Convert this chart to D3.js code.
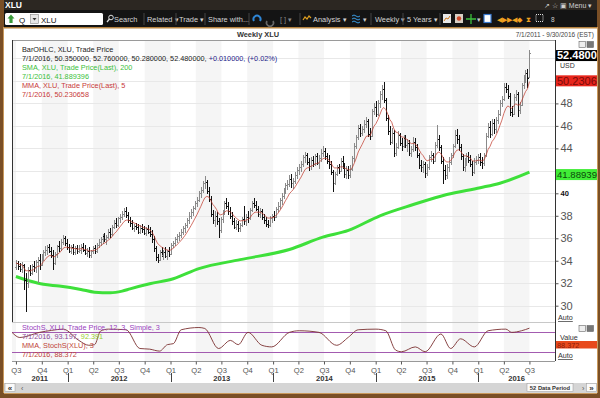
<!DOCTYPE html>
<html><head><meta charset="utf-8">
<script src="https://cdn.jsdelivr.net/npm/d3@7"></script>
<style>
body{margin:0;background:#fff;overflow:hidden}
svg{display:block}
text{font-family:"Liberation Sans",Arial,sans-serif}
</style></head>
<body><svg id="c" width="600" height="398"></svg>
<script>
// ---------------- DATA ----------------
const firstWeek = "2011-07-01";
const weekOpen = [
33.4,33.8,33.5,33.3,33.6,32.3,32.0,33.2,32.9,33.5,33.4,33.9,34.1,
33.6,34.4,34.8,35.0,35.2,34.9,34.5,33.8,34.6,35.3,35.1,35.7,36.0,
35.6,35.2,34.9,35.2,34.8,35.1,34.9,35.0,35.2,35.0,34.7,34.9,34.5,
34.9,35.1,34.9,35.4,35.7,35.9,36.2,35.9,36.1,36.6,36.4,37.0,37.4,
37.2,37.8,37.9,38.2,38.4,38.1,37.6,37.4,36.9,37.1,37.0,36.6,36.9,
36.8,36.5,36.8,36.6,36.4,35.9,35.1,34.3,34.1,34.8,34.5,34.8,34.4,
34.9,34.6,35.4,35.6,35.9,36.2,36.3,36.6,36.9,37.2,37.6,38.0,38.3,
38.7,39.1,39.4,40.0,40.3,40.9,41.0,40.2,39.5,38.2,37.6,38.0,37.5,
36.7,37.7,38.3,39.1,38.9,38.4,38.0,37.5,37.0,37.3,36.9,37.2,37.7,
37.5,37.9,37.8,38.5,39.1,39.0,38.6,38.2,38.4,37.9,37.6,37.3,37.2,
37.8,38.0,37.9,38.6,38.9,39.4,39.8,40.2,40.7,40.8,41.3,40.9,41.1,
41.6,42.1,42.3,42.6,43.2,43.4,42.8,42.4,43.0,42.6,43.3,42.7,43.1,
43.6,43.8,43.3,42.9,42.6,41.9,40.9,41.7,42.3,42.0,42.9,42.4,41.7,
42.1,41.6,42.2,43.1,44.2,45.0,45.8,45.4,45.7,46.2,46.4,45.3,45.1,
47.3,47.7,47.1,48.0,48.8,49.3,48.3,46.7,45.5,44.6,45.4,43.6,44.1,
45.2,44.5,44.2,44.9,44.3,44.5,43.6,43.9,44.6,44.1,43.4,42.5,42.3,
42.6,41.8,42.3,43.2,43.4,42.9,44.3,44.8,44.1,42.9,42.1,41.6,42.3,
42.8,43.4,44.2,45.2,44.8,44.1,43.3,42.3,42.8,43.3,43.0,42.6,41.9,
42.8,43.0,43.2,42.8,42.7,43.4,45.1,45.9,45.3,46.3,45.7,46.5,47.1,
48.0,48.4,49.5,49.3,48.7,47.2,47.1,48.6,48.8,47.4,47.9,49.6,50.3,
50.7,50.35];
const weekHigh = [
34.1,34.0,33.8,33.9,33.7,32.9,33.4,33.6,33.7,34.0,34.1,34.3,34.6,
34.6,35.0,35.3,35.4,35.5,35.2,35.0,34.8,35.4,35.8,35.9,36.3,36.2,
35.9,35.5,35.4,35.5,35.3,35.4,35.4,35.5,35.6,35.4,35.1,35.2,35.0,
35.3,35.4,35.6,35.9,36.1,36.4,36.5,36.3,36.8,36.9,37.2,37.6,37.8,
37.9,38.2,38.4,38.7,38.8,38.3,37.9,37.6,37.3,37.4,37.3,37.2,37.3,
37.1,37.0,37.2,37.0,36.7,36.2,35.3,34.6,35.0,35.2,35.0,35.2,35.0,
35.2,35.6,35.8,36.1,36.4,36.6,36.8,37.1,37.4,37.8,38.3,38.6,38.9,
39.3,39.7,40.2,40.6,41.1,41.5,41.2,40.6,39.8,38.5,38.4,38.3,37.8,
37.9,38.5,39.3,39.6,39.2,38.8,38.3,37.8,37.6,37.5,37.4,37.9,38.9,
38.2,38.4,38.7,39.3,39.6,39.3,38.9,38.7,38.6,38.2,37.9,37.6,38.0,
38.2,38.4,38.8,39.2,39.6,40.0,40.5,40.9,41.2,41.6,41.7,41.4,41.9,
42.3,42.6,42.9,43.4,43.7,43.6,43.1,43.2,43.3,43.5,43.6,43.4,43.9,
44.2,44.0,43.6,43.4,42.9,42.1,41.9,42.5,42.6,43.1,43.3,42.7,42.4,
42.4,42.5,43.3,44.5,45.2,46.1,46.2,46.0,46.5,46.8,46.6,45.8,47.5,
48.0,48.2,48.3,49.1,49.6,49.9,48.5,47.0,46.0,45.8,45.6,44.5,45.5,
45.4,44.9,45.2,45.2,44.8,44.7,44.2,45.0,44.9,44.4,43.6,43.0,42.9,
42.8,42.6,43.4,43.8,43.6,44.6,46.1,45.2,44.3,43.2,42.5,42.6,43.2,
43.6,44.4,45.6,45.7,45.2,44.4,43.5,43.1,43.6,43.7,43.4,42.9,43.1,
43.3,43.5,43.6,43.2,43.6,45.4,46.3,46.4,46.6,46.6,46.8,47.4,48.3,
48.7,49.8,49.8,49.6,48.9,47.8,48.8,49.2,49.0,48.1,49.8,50.5,51.0,
51.1,52.76];
const weekLow = [
33.2,33.2,33.0,32.9,31.4,29.4,31.6,32.6,32.7,33.0,32.9,32.0,33.2,
33.5,34.0,34.4,34.5,34.7,34.2,33.2,33.6,34.2,34.8,34.9,35.4,35.3,
35.0,34.7,34.6,34.5,34.5,34.6,34.7,34.6,34.8,34.5,34.3,34.2,34.2,
34.6,34.6,34.7,35.1,35.3,35.5,35.7,35.4,35.9,36.0,36.2,36.8,36.9,
37.0,37.4,37.6,37.9,37.8,37.4,37.0,36.7,36.6,36.7,36.4,36.4,36.5,
36.3,36.2,36.4,36.1,35.6,34.8,34.0,33.8,34.0,34.3,34.1,34.2,34.1,
34.3,34.5,35.1,35.3,35.6,35.8,36.0,36.3,36.5,36.9,37.3,37.7,38.0,
38.5,38.8,39.2,39.6,40.0,40.4,39.9,39.2,37.9,37.3,37.0,37.2,36.0,
36.5,37.4,38.1,38.6,38.1,37.7,37.2,36.8,36.7,36.6,36.6,37.0,37.2,
37.1,37.4,37.6,38.3,38.7,38.4,37.9,37.8,37.6,37.3,37.0,36.9,37.0,
37.4,37.5,37.8,38.3,38.6,39.0,39.5,39.9,40.3,40.6,40.5,40.4,40.8,
41.3,41.6,41.9,42.3,42.7,42.5,42.0,42.1,42.3,42.4,42.5,42.2,42.8,
43.2,43.0,42.6,42.2,41.6,40.1,40.7,41.5,41.7,41.9,42.2,41.4,41.3,
41.3,41.4,42.0,42.8,43.9,44.7,45.0,45.1,45.4,45.8,45.0,44.7,45.0,
47.0,46.8,46.9,47.6,48.3,48.0,46.4,45.2,44.3,44.4,43.2,43.3,43.9,
44.2,43.8,44.0,44.0,43.7,43.3,43.2,43.7,43.8,43.1,42.2,41.9,41.8,
41.4,41.5,42.1,42.8,42.6,42.8,44.0,43.8,42.6,40.8,41.2,41.3,41.9,
42.5,43.1,44.0,44.4,43.8,43.0,42.0,41.9,42.4,42.7,42.3,41.5,41.7,
42.5,42.6,42.4,42.2,42.4,43.2,44.9,44.9,45.1,45.3,45.4,46.2,46.9,
47.7,48.2,48.9,48.4,46.9,46.8,47.0,48.2,46.8,47.1,47.8,49.3,49.8,
49.4,50.28];
const weekClose = [
33.8,33.5,33.3,33.6,32.3,32.0,33.2,32.9,33.5,33.4,33.9,34.1,33.6,
34.4,34.8,35.0,35.2,34.9,34.5,33.8,34.6,35.3,35.1,35.7,36.0,35.6,
35.2,34.9,35.2,34.8,35.1,34.9,35.0,35.2,35.0,34.7,34.9,34.5,34.9,
35.1,34.9,35.4,35.7,35.9,36.2,35.9,36.1,36.6,36.4,37.0,37.4,37.2,
37.8,37.9,38.2,38.4,38.1,37.6,37.4,36.9,37.1,37.0,36.6,36.9,36.8,
36.5,36.8,36.6,36.4,35.9,35.1,34.3,34.1,34.8,34.5,34.8,34.4,34.9,
34.6,35.4,35.6,35.9,36.2,36.3,36.6,36.9,37.2,37.6,38.0,38.3,38.7,
39.1,39.4,40.0,40.3,40.9,41.0,40.2,39.5,38.2,37.6,38.0,37.5,36.7,
37.7,38.3,39.1,38.9,38.4,38.0,37.5,37.0,37.3,36.9,37.2,37.7,37.5,
37.9,37.8,38.5,39.1,39.0,38.6,38.2,38.4,37.9,37.6,37.3,37.2,37.8,
38.0,37.9,38.6,38.9,39.4,39.8,40.2,40.7,40.8,41.3,40.9,41.1,41.6,
42.1,42.3,42.6,43.2,43.4,42.8,42.4,43.0,42.6,43.3,42.7,43.1,43.6,
43.8,43.3,42.9,42.6,41.9,40.9,41.7,42.3,42.0,42.9,42.4,41.7,42.1,
41.6,42.2,43.1,44.2,45.0,45.8,45.4,45.7,46.2,46.4,45.3,45.1,47.3,
47.7,47.1,48.0,48.8,49.3,48.3,46.7,45.5,44.6,45.4,43.6,44.1,45.2,
44.5,44.2,44.9,44.3,44.5,43.6,43.9,44.6,44.1,43.4,42.5,42.3,42.6,
41.8,42.3,43.2,43.4,42.9,44.3,44.8,44.1,42.9,42.1,41.6,42.3,42.8,
43.4,44.2,45.2,44.8,44.1,43.3,42.3,42.8,43.3,43.0,42.6,41.9,42.8,
43.0,43.2,42.8,42.7,43.4,45.1,45.9,45.3,46.3,45.7,46.5,47.1,48.0,
48.4,49.5,49.3,48.7,47.2,47.1,48.6,48.8,47.4,47.9,49.6,50.3,50.7,
50.3,52.48];
// 200-week SMA (it needs history before the window)
const smaDates = ["2011-07-01","2011-08-19","2011-10-07","2011-12-02","2012-02-17","2012-04-06","2012-06-01","2012-07-13","2012-08-10","2012-10-19","2013-01-11","2013-04-12","2013-09-06","2014-02-28","2014-06-27","2014-09-26","2015-01-16","2015-05-15","2015-09-11","2016-01-08","2016-03-18","2016-07-01"];
const smaValues = [32.6,32.2,31.9,31.75,31.45,31.2,31.15,31.3,31.5,31.95,32.4,33.3,34.1,35.0,36.1,36.7,38.0,39.0,39.9,40.5,40.9,41.89];
// StochS line
const stochDates = ["2011-06-17","2011-07-15","2011-09-23","2011-11-04","2011-12-16","2012-02-10","2012-03-16","2012-04-06","2012-04-27","2012-05-25","2012-07-27","2012-09-14","2012-10-19","2012-11-23","2012-12-21","2013-01-11","2013-02-08","2013-04-12","2013-05-03","2013-06-21","2013-08-02","2013-08-30","2013-10-04","2013-11-22","2013-12-27","2014-02-28","2014-04-04","2014-06-13","2014-08-15","2014-09-26","2014-10-31","2015-01-02","2015-02-06","2015-03-13","2015-04-03","2015-05-22","2015-06-26","2015-08-21","2015-09-25","2015-10-30","2015-12-18","2016-02-05","2016-04-08","2016-04-29","2016-06-03","2016-07-01"];
const stochValues = [80,64,80,86,90,55,40,42,84,90,88,30,28,22,42,45,88,95,92,30,55,42,80,40,35,80,85,80,40,65,88,90,85,25,20,35,20,75,30,60,35,85,90,80,85,93];
const priceTicks = [30,32,34,36,38,40,44,46,48];
const tagValues = [52.48, 50.230658, 41.889396];
const tagLabels = ["52.4800", "50.2306", "41.88939"];
const stochValueLabel = "88.372";
const legendMain = ["BarOHLC, XLU, Trade Price","7/1/2016, 50.350000, 52.760000, 50.280000, 52.480000, ","+0.010000, (+0.02%)","SMA, XLU, Trade Price(Last),  200","7/1/2016, 41.889396","MMA, XLU, Trade Price(Last),  5","7/1/2016, 50.230658"];
const legendStoch = ["StochS, XLU, Trade Price,  12, 3, Simple, 3","7/1/2016, 93.197, ","92.391","MMA, StochS(XLU),  3","7/1/2016, 88.372"];

// ---------------- SCALES ----------------
const parse = d3.timeParse("%Y-%m-%d");
const start = parse(firstWeek);
const weekDates = weekClose.map((_, i) => d3.timeDay.offset(start, 7 * i));
const L = 12, R = 555, T = 40, MB = 322, SB = 361;
const x = d3.scaleTime().domain([parse("2011-06-17"), parse("2016-09-30")]).range([L, R]);
const y = d3.scaleLinear().domain([30, 48]).range([305.7, 103.4]);
const ys = d3.scaleLinear().domain([0, 100]).range([358.2, 325.9]);

const svg = d3.select("#c");

// window chrome
svg.append("rect").attr("width", 600).attr("height", 398).attr("fill", "#fff");
svg.append("rect").attr("x", 0).attr("y", 0).attr("width", 600).attr("height", 10).attr("fill", "#2c2722");
svg.append("rect").attr("x", 0).attr("y", 10).attr("width", 600).attr("height", 17).attr("fill", "#141414");
svg.append("rect").attr("x", 0).attr("y", 27).attr("width", 600).attr("height", 1.5).attr("fill", "#b5823f");
svg.append("text").attr("x", 5).attr("y", 8).attr("fill", "#fff").attr("font-size", 8.5).attr("font-weight", "bold").text("XLU");
svg.append("text").attr("x", 544).attr("y", 7.5).attr("fill", "#cfcfcf").attr("font-size", 7).text("↗  ☆  ▣  Menu ▾");

// toolbar
svg.append("rect").attr("x", 5).attr("y", 13).attr("width", 98).attr("height", 12).attr("rx", 1.5).attr("fill", "#fff");
svg.append("polygon").attr("points", "11,14.5 14.5,18.5 12.6,18.5 12.6,23 9.4,23 9.4,18.5 7.5,18.5").attr("fill", "#3a9a3a");
svg.append("text").attr("x", 19).attr("y", 22.5).attr("font-size", 8).attr("fill", "#111").text("Q");
svg.append("rect").attr("x", 30.5).attr("y", 14.5).attr("width", 8).attr("height", 9).attr("fill", "#e6e6e6").attr("stroke", "#888").attr("stroke-width", 0.6);
svg.append("polygon").attr("points", "32.5,18 36.5,18 34.5,20.5").attr("fill", "#333");
svg.append("text").attr("x", 41).attr("y", 22.5).attr("font-size", 8).attr("fill", "#111").text("XLU");
svg.append("circle").attr("cx", 111).attr("cy", 17.5).attr("r", 2.3).attr("fill", "none").attr("stroke", "#ddd").attr("stroke-width", 1);
svg.append("line").attr("x1", 109.5).attr("y1", 19).attr("x2", 107).attr("y2", 22).attr("stroke", "#ddd").attr("stroke-width", 1.3);
const tb = [[114, "Search"], [147, "Related ▾"], [179, "Trade ▾"], [208, "Share with..."], [313, "Analysis ▾"], [375, "Weekly ▾"], [407, "5 Years ▾"]];
tb.forEach(([tx, t]) => svg.append("text").attr("x", tx).attr("y", 21.5).attr("font-size", 7.4).attr("fill", "#d4d4d4").text(t));
[144, 176, 205, 249, 300, 371, 403, 440].forEach(sx => svg.append("line").attr("x1", sx).attr("x2", sx).attr("y1", 13).attr("y2", 25).attr("stroke", "#444"));
svg.append("path").attr("d", "M254,21 A3.5,3.5 0 1,1 260,21").attr("fill", "none").attr("stroke", "#2f86d6").attr("stroke-width", 2);
svg.append("path").attr("d", "M267,21 A3.5,3.5 0 1,0 273,21").attr("fill", "none").attr("stroke", "#666").attr("stroke-width", 1.6);
svg.append("text").attr("x", 280).attr("y", 21.5).attr("font-size", 7.4).attr("fill", "#888").text("[ ]  ▾");
svg.append("path").attr("d", "M303,20 l2,-3 l2,2 l2,-3 l2,2").attr("fill", "none").attr("stroke", "#e0a020").attr("stroke-width", 1.2);
svg.append("path").attr("d", "M352,16 q2,-2 4,0 t4,0 M352,19 q2,-2 4,0 t4,0 M352,22 q2,-2 4,0 t4,0").attr("fill", "none").attr("stroke", "#3a9ae0").attr("stroke-width", 1);
svg.append("text").attr("x", 363).attr("y", 21.5).attr("font-size", 7).attr("fill", "#ccc").text("▾");
svg.append("rect").attr("x", 443).attr("y", 14).attr("width", 8).attr("height", 9).attr("fill", "#e8e8e8");
svg.append("path").attr("d", "M444,21 l2,-3 l2,1 l2,-3").attr("fill", "none").attr("stroke", "#d07a20");
svg.append("rect").attr("x", 455).attr("y", 14).attr("width", 8).attr("height", 9).attr("fill", "#d8cfc4");
svg.append("circle").attr("cx", 459).attr("cy", 18.5).attr("r", 2.2).attr("fill", "#d04a2a");
svg.append("path").attr("d", "M466,19 h10 M471,14 v10").attr("stroke", "#3cc03c").attr("stroke-width", 1.3);
svg.append("text").attr("x", 477).attr("y", 21.5).attr("font-size", 7).attr("fill", "#ccc").text("▾");
svg.append("rect").attr("x", 484).attr("y", 14.5).attr("width", 7).attr("height", 8).attr("fill", "#fff").attr("stroke", "#3a7ad0").attr("stroke-width", 1.2);
[[497, "◀▶"], [507, "▶◀"], [517, "◆"], [526, "⧗"]].forEach(([ix, t]) => svg.append("text").attr("x", ix).attr("y", 22).attr("font-size", 7).attr("fill", "#f0a020").text(t));
svg.append("rect").attr("x", 536).attr("y", 14.5).attr("width", 7).attr("height", 7).attr("fill", "none").attr("stroke", "#ddd").attr("stroke-dasharray", "1,1");
svg.append("text").attr("x", 551).attr("y", 22).attr("font-size", 6.5).attr("fill", "#ccc").text("8");

// title texts
svg.append("text").attr("x", 258).attr("y", 36.5).attr("text-anchor", "middle").attr("font-size", 7.4).attr("font-weight", "bold").attr("fill", "#333").text("Weekly XLU");
svg.append("text").attr("x", 594).attr("y", 36.5).attr("text-anchor", "end").attr("font-size", 6.5).attr("fill", "#444").text("7/1/2011 - 9/30/2016 (EST)");

// quarter bands (Q2 and Q4 shaded)
const quarters = d3.timeMonth.every(3).range(parse("2011-04-01"), parse("2016-10-02"));
quarters.forEach(q => {
  const m = q.getMonth();
  if (m === 3 || m === 9) {
    const x0 = Math.max(L, x(q)), x1 = Math.min(R, x(d3.timeMonth.offset(q, 3)));
    if (x1 > x0) svg.append("rect").attr("x", x0).attr("y", T).attr("width", x1 - x0).attr("height", SB - T).attr("fill", "#f5f5f5");
  }
});
// horizontal grid
svg.append("g").selectAll("line").data(d3.range(30, 54, 2)).join("line")
  .attr("x1", L).attr("x2", R).attr("y1", d => Math.round(y(d)) + 0.5).attr("y2", d => Math.round(y(d)) + 0.5)
  .attr("stroke", "#e8e8e8");

// clip for main pane
svg.append("clipPath").attr("id", "mainclip").append("rect").attr("x", L).attr("y", T).attr("width", R - L).attr("height", MB - T);
const main = svg.append("g").attr("clip-path", "url(#mainclip)");

// SMA 200 (green)
const smaPts = smaDates.map((d, i) => [x(parse(d)), y(smaValues[i])]);
main.append("path").attr("d", d3.line().curve(d3.curveMonotoneX)(smaPts)).attr("fill", "none").attr("stroke", "#3ee03a").attr("stroke-width", 3);

// OHLC bars
const bars = main.append("g").attr("shape-rendering", "crispEdges");
weekDates.forEach((d, i) => {
  const bx = Math.round(x(d)) + 0.5;
  const col = weekClose[i] >= weekOpen[i] ? "#8a8a8a" : "#111";
  const g = bars.append("g").attr("stroke", col).attr("stroke-width", 1);
  g.append("line").attr("x1", bx).attr("x2", bx).attr("y1", y(weekHigh[i])).attr("y2", y(weekLow[i]));
  g.append("line").attr("x1", bx - 1.5).attr("x2", bx).attr("y1", Math.round(y(weekOpen[i])) + 0.5).attr("y2", Math.round(y(weekOpen[i])) + 0.5);
  g.append("line").attr("x1", bx).attr("x2", bx + 1.5).attr("y1", Math.round(y(weekClose[i])) + 0.5).attr("y2", Math.round(y(weekClose[i])) + 0.5);
});

// MMA 5 (red)
let mv = weekClose[0];
const mma = weekClose.map(c => (mv = mv + (c - mv) / 5));
main.append("path").attr("d", d3.line().x((d, i) => x(weekDates[i])).y(d => y(d))(mma))
  .attr("fill", "none").attr("stroke", "#c0392b").attr("stroke-width", 0.8).attr("opacity", 0.9);

// legend main
const lg = svg.append("g").attr("font-size", 7.3);
lg.append("text").attr("x", 22).attr("y", 52).attr("fill", "#222").text(legendMain[0]);
const l2 = lg.append("text").attr("x", 22).attr("y", 61).attr("fill", "#222");
l2.append("tspan").text(legendMain[1]);
l2.append("tspan").attr("fill", "#1c1c8a").text(legendMain[2]);
lg.append("text").attr("x", 22).attr("y", 70).attr("fill", "#3cbf3c").text(legendMain[3]);
lg.append("text").attr("x", 22).attr("y", 79).attr("fill", "#3cbf3c").text(legendMain[4]);
lg.append("text").attr("x", 22).attr("y", 88).attr("fill", "#c83a3a").text(legendMain[5]);
lg.append("text").attr("x", 22).attr("y", 97).attr("fill", "#c83a3a").text(legendMain[6]);

// ---------------- STOCH PANE ----------------
[80, 20].forEach(v => svg.append("line").attr("x1", L).attr("x2", R).attr("y1", Math.round(ys(v)) + 0.5).attr("y2", Math.round(ys(v)) + 0.5).attr("stroke", "#a35bb0").attr("stroke-width", 1));
const stPts = stochDates.map((d, i) => [x(parse(d)), ys(stochValues[i])]);
svg.append("path").attr("d", d3.line().curve(d3.curveMonotoneX)(stPts)).attr("fill", "none").attr("stroke", "#7a3030").attr("stroke-width", 0.9);

const sg = svg.append("g").attr("font-size", 7.3);
sg.append("text").attr("x", 22).attr("y", 330).attr("fill", "#9a3fc0").text(legendStoch[0]);
const s2 = sg.append("text").attr("x", 22).attr("y", 339).attr("fill", "#8a4a9a");
s2.append("tspan").text(legendStoch[1]);
s2.append("tspan").attr("fill", "#9acd32").text(legendStoch[2]);
sg.append("text").attr("x", 22).attr("y", 348).attr("fill", "#c0453a").text(legendStoch[3]);
sg.append("text").attr("x", 22).attr("y", 357).attr("fill", "#c0453a").text(legendStoch[4]);

// frames
svg.append("line").attr("x1", L).attr("x2", R).attr("y1", T + 0.5).attr("y2", T + 0.5).attr("stroke", "#9a9a9a");
svg.append("line").attr("x1", L).attr("x2", R).attr("y1", MB + 0.5).attr("y2", MB + 0.5).attr("stroke", "#c8c8c8");
svg.append("line").attr("x1", L + 0.5).attr("x2", L + 0.5).attr("y1", T).attr("y2", MB).attr("stroke", "#333");
svg.append("line").attr("x1", R + 0.5).attr("x2", R + 0.5).attr("y1", T).attr("y2", SB).attr("stroke", "#333");

// right price axis
const ya = svg.append("g").attr("transform", `translate(${R + 0.5},0)`)
  .call(d3.axisRight(y).tickValues(priceTicks).tickSize(3).tickPadding(2).tickFormat(d3.format("d")));
ya.select(".domain").remove();
ya.selectAll("line").attr("stroke", "#555");
ya.selectAll("text").attr("font-family", "Liberation Sans, Arial, sans-serif").attr("font-size", 11).attr("fill", "#555");
ya.selectAll(".tick").filter(d => d === 40).select("text").attr("font-size", 7.5).attr("font-weight", "bold").attr("fill", "#111");

// price tags
const tagStyles = [["#000", "#fff", "bold", 11], ["#e8261c", "#7a0a0a", "normal", 11], ["#40ec36", "#0b4a0b", "normal", 9.6]];
tagValues.forEach((v, i) => {
  const ty = y(v);
  const [fill, tcol, fw, fs] = tagStyles[i];
  svg.append("rect").attr("x", 556).attr("y", ty - 3).attr("width", 46).attr("height", 11).attr("fill", fill);
  svg.append("text").attr("x", 557).attr("y", ty + 6.3).attr("font-size", fs).attr("font-weight", fw).attr("fill", tcol).text(tagLabels[i]);
});
svg.append("text").attr("x", 560).attr("y", 68).attr("font-size", 7).attr("fill", "#333").text("USD");
svg.append("text").attr("x", 558).attr("y", 320).attr("font-size", 7.2).attr("fill", "#333").attr("text-decoration", "underline").text("Auto");
svg.append("text").attr("x", 558).attr("y", 358).attr("font-size", 7.2).attr("fill", "#333").attr("text-decoration", "underline").text("Auto");
svg.append("text").attr("x", 560).attr("y", 340).attr("font-size", 7.2).attr("fill", "#333").text("Value");
svg.append("rect").attr("x", 556).attr("y", 341).attr("width", 41).attr("height", 7.5).attr("fill", "#e84a1c");
svg.append("text").attr("x", 557).attr("y", 347.5).attr("font-size", 7.3).attr("fill", "#8a1a0a").text(stochValueLabel);
[[579, 41.5], [587, 41.5], [579, 325.5], [587, 325.5]].forEach(([ix, iy], k) => {
  svg.append("rect").attr("x", ix).attr("y", iy).attr("width", 6.5).attr("height", 6).attr("fill", k % 2 ? "#777" : "#eee").attr("stroke", "#666").attr("stroke-width", 0.6);
});

// x axis
const qTicks = d3.timeMonth.every(3).range(parse("2011-07-01"), parse("2016-07-02"));
const xa = svg.append("g").attr("transform", `translate(0,${SB + 0.5})`)
  .call(d3.axisBottom(x).tickValues(qTicks).tickSize(3).tickPadding(3).tickFormat(d => "Q" + (Math.floor(d.getMonth() / 3) + 1)));
xa.select(".domain").attr("stroke", "#999").attr("d", `M${L},0H${R}`);
xa.selectAll("line").attr("stroke", "#555");
xa.selectAll("text").attr("font-family", "Liberation Sans, Arial, sans-serif").attr("font-size", 7.6).attr("fill", "#555");
const years = [2011, 2012, 2013, 2014, 2015, 2016];
const [d0, d1] = x.domain();
years.forEach(yr => {
  const a = new Date(Math.max(+new Date(yr, 0, 1), +d0)), b = new Date(Math.min(+new Date(yr + 1, 0, 1), +d1));
  svg.append("text").attr("x", (x(a) + x(b)) / 2).attr("y", 380.5).attr("text-anchor", "middle").attr("font-size", 7.6).attr("font-weight", "bold").attr("fill", "#333").text(yr);
  if (yr > 2011) {
    const xx = Math.round(x(new Date(yr, 0, 1))) + 0.5;
    svg.append("line").attr("x1", xx).attr("x2", xx).attr("y1", 373).attr("y2", 382).attr("stroke", "#444");
  }
});

// bottom scroll bar
svg.append("rect").attr("x", 4).attr("y", 383).attr("width", 593).attr("height", 10).attr("fill", "#d5d5d5");
svg.append("rect").attr("x", 5).attr("y", 383.5).attr("width", 10).attr("height", 8).attr("fill", "#fafafa").attr("stroke", "#999").attr("stroke-width", 0.5);
svg.append("text").attr("x", 10).attr("y", 390.5).attr("text-anchor", "middle").attr("font-size", 8).attr("font-weight", "bold").attr("fill", "#333").text("«");
svg.append("text").attr("x", 21).attr("y", 390.5).attr("font-size", 7).attr("fill", "#555").text("‹");
svg.append("rect").attr("x", 527).attr("y", 383.5).attr("width", 46).attr("height", 8).attr("fill", "#fafafa").attr("stroke", "#999").attr("stroke-width", 0.5);
svg.append("text").attr("x", 550).attr("y", 390).attr("text-anchor", "middle").attr("font-size", 5.8).attr("font-weight", "bold").attr("fill", "#333").text("52 Data Period");
svg.append("text").attr("x", 582).attr("y", 390.5).attr("font-size", 7).attr("fill", "#555").text("›");
svg.append("rect").attr("x", 586.5).attr("y", 383.5).attr("width", 10).attr("height", 8).attr("fill", "#fafafa").attr("stroke", "#999").attr("stroke-width", 0.5);
svg.append("text").attr("x", 591.5).attr("y", 390.5).attr("text-anchor", "middle").attr("font-size", 8).attr("font-weight", "bold").attr("fill", "#333").text("»");

// outer brown border
svg.append("rect").attr("x", 0).attr("y", 393).attr("width", 600).attr("height", 5).attr("fill", "#7a4f26");
svg.append("rect").attr("x", 0).attr("y", 393).attr("width", 600).attr("height", 1).attr("fill", "#c9995c");
svg.append("rect").attr("x", 0).attr("y", 0).attr("width", 4).attr("height", 398).attr("fill", "#7a4f26");
svg.append("rect").attr("x", 3).attr("y", 27).attr("width", 1).attr("height", 366).attr("fill", "#c9995c");
svg.append("rect").attr("x", 597).attr("y", 0).attr("width", 3).attr("height", 398).attr("fill", "#7a4f26");
svg.append("rect").attr("x", 597).attr("y", 27).attr("width", 1).attr("height", 366).attr("fill", "#c9995c");
</script></body></html>
